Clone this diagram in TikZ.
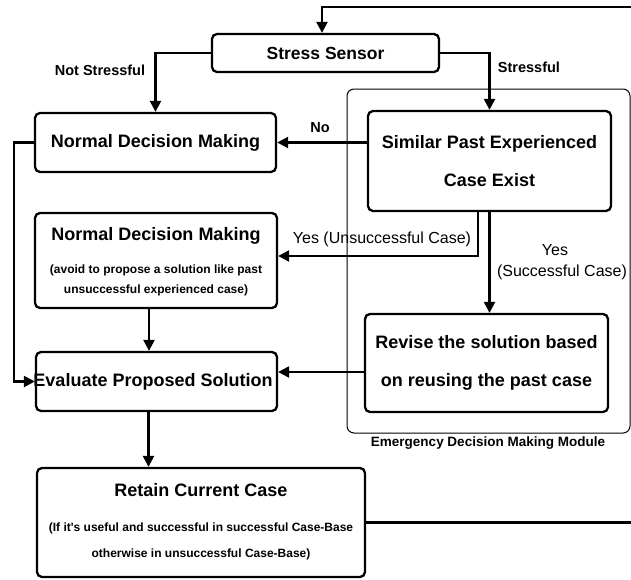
\documentclass[tikz,border=0pt]{standalone}
\usepackage{fontspec}
\setmainfont{Liberation Sans}
\usetikzlibrary{arrows.meta}
\begin{document}
\begin{tikzpicture}[x=1pt,y=-1pt,
 blk/.style={draw, line width=2.3pt, rounded corners=5pt, inner sep=0pt, align=center, font=\bfseries\fontsize{18}{38}\selectfont},
 modbox/.style={draw, line width=1pt, rounded corners=7pt, inner sep=0pt},
 ttl/.style={inner sep=0pt, font=\bfseries\fontsize{18}{22}\selectfont},
 note/.style={inner sep=0pt, align=center, font=\bfseries\fontsize{12}{20}\selectfont},
 lbl/.style={inner sep=0pt, font=\bfseries\fontsize{14.5}{17}\selectfont},
 lblr/.style={inner sep=0pt, font=\fontsize{16}{22}\selectfont},
 conn/.style={line width=2.3pt},
 arr/.style={line width=2.3pt, -{Triangle[length=11pt,width=11pt]}}]

\useasboundingbox (0,0) rectangle (631,579);

\node[modbox, minimum width=283pt, minimum height=344pt] (mod) at (488.5,261) {};
\node[lbl, font=\bfseries\fontsize{13.5}{16}\selectfont] (modl) at (488,443) {Emergency Decision Making Module};

\node[blk, minimum width=227pt, minimum height=38pt, font=\bfseries\fontsize{17.5}{20}\selectfont] (ss) at (325.5,53) {Stress Sensor};
\node[blk, minimum width=241pt, minimum height=59pt] (ndm1) at (155.5,142.5) {Normal Decision Making};
\node[blk, minimum width=243pt, minimum height=100pt] (sim) at (489.5,161) {Similar Past Experienced\\Case Exist};
\node[blk, minimum width=242pt, minimum height=95pt] (ndm2) at (156,260.5) {};
\node[ttl] (ndm2t) at (156,236) {Normal Decision Making};
\node[note] (ndm2n) at (156,280) {(avoid to propose a solution like past\\unsuccessful experienced case)};
\node[blk, minimum width=243pt, minimum height=98pt] (rev) at (486.5,363) {Revise the solution based\\on reusing the past case};
\node[blk, minimum width=241pt, minimum height=59pt] (eval) at (156.5,381.5) {};
\node[ttl] (evalt) at (153,382) {Evaluate Proposed Solution};
\node[blk, minimum width=328pt, minimum height=109pt] (ret) at (201,522.5) {};
\node[ttl] (rett) at (201,490) {Retain Current Case};
\node[note, font=\bfseries\fontsize{12}{26}\selectfont] (retn) at (201,541) {(If it\textquotesingle s useful and successful in successful Case-Base\\otherwise in unsuccessful Case-Base)};

\coordinate (fbin) at (631,7);
\coordinate (fbturn) at (322,7);
\coordinate (fbout) at (631,522);

\draw[arr] (fbin) -- (fbturn) -- (fbturn |- ss.north);
\draw[arr] (ss.west) -| (ndm1.north);
\draw[arr] (ss.east) -| (sim.north);
\draw[arr] (sim.west |- ndm1.east) -- (ndm1.east);
\draw[arr] ([xshift=-11.5pt]sim.south) |- ([yshift=4.5pt]ndm2.east);
\draw[arr] (sim.south) -- (sim.south |- rev.north);
\draw[arr] ([yshift=-9pt]rev.west) -- ([yshift=-9pt]rev.west -| eval.east);
\draw[arr] (ndm1.west) -- ++(-20,0) |- (eval.west);
\draw[arr] ([xshift=-7pt]ndm2.south) -- ([xshift=-7pt]ndm2.south |- eval.north);
\draw[arr] ([xshift=-8pt]eval.south) -- ([xshift=-8pt]eval.south |- ret.north);
\draw[conn] (ret.east) -- (ret.east -| fbout);

\node[lbl] (lns) at (100,70) {Not Stressful};
\node[lbl] (ls) at (529,67) {Stressful};
\node[lbl] (lno) at (320,128) {No};
\node[lblr] (lyu) at (382,239) {Yes (Unsuccessful Case)};
\node[lblr] (ly) at (555,250) {Yes};
\node[lblr] (lys) at (562,272) {(Successful Case)};
\end{tikzpicture}
\end{document}
